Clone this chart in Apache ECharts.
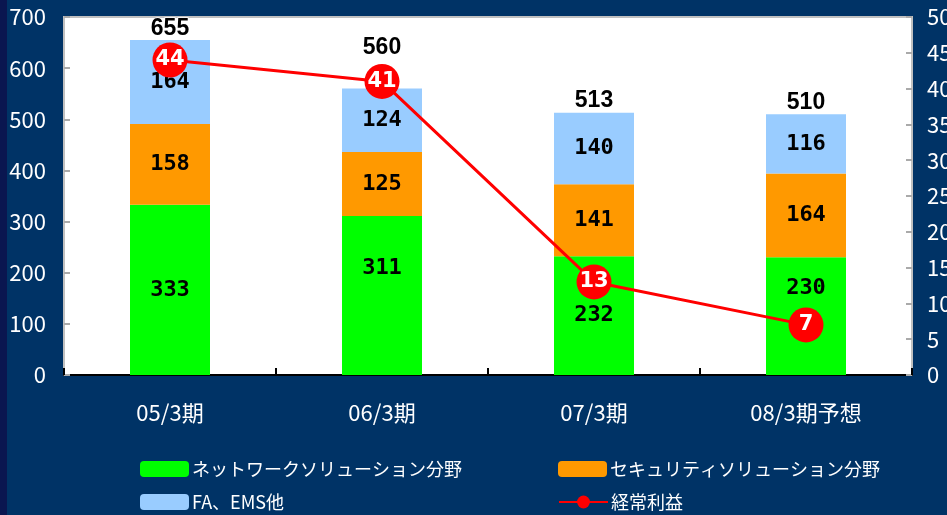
<!DOCTYPE html>
<html><head><meta charset="utf-8">
<script src="https://cdn.jsdelivr.net/npm/echarts@6/dist/echarts.min.js"></script>
<style>html,body{margin:0;padding:0;background:#003366;}#c{width:947px;height:515px;}</style>
</head><body><div id="c"></div>
<script>
const categories = ['05/3期', '06/3期', '07/3期', '08/3期予想'];
const network = [333, 311, 232, 230];
const security = [158, 125, 141, 164];
const faEms = [164, 124, 140, 116];
const totals = [655, 560, 513, 510];
const profit = [44, 41, 13, 7];
const leftTicks = [0, 700, 100];
const rightTicks = [0, 50, 5];
const seriesNames = ['ネットワークソリューション分野', 'セキュリティソリューション分野', 'FA、EMS他', '経常利益'];

// label styling (offsets to avoid overlap with line markers)
const networkLabelShift = [0, -27, 0, -28];
const totalLabelShift = [0, -29, 0, 0];
const legendPos = [[135, 455], [553, 455], [135, 488], [553, 488]];

const segLabel = {
  show: true, position: 'inside', color: '#000', fontWeight: 'bold',
  fontFamily: 'DejaVu Sans Mono', fontSize: 22
};
const axisFont = { color: '#fff', fontSize: 22, fontFamily: '"Liberation Sans Narrow", "Noto Sans CJK JP"' };
const chart = echarts.init(document.getElementById('c'));
chart.setOption({
  backgroundColor: '#003366',
  animation: false,
  graphic: [{ type: 'rect', left: 0, top: 0, shape: { width: 7, height: 515 }, style: { fill: '#0a1650' } }],
  grid: { left: 64, right: 35, top: 17, bottom: 140, outerBoundsMode: 'none', containLabel: false,
    show: true, backgroundColor: '#fff', borderColor: '#c0c0c0', borderWidth: 2 },
  legend: seriesNames.map((n, i) => ({
    data: [n], left: legendPos[i][0], top: legendPos[i][1], itemWidth: 49, itemHeight: 16,
    textStyle: { color: '#fff', fontSize: 18, fontFamily: 'Noto Sans CJK JP', padding: [0, 0, 0, -2] }
  })),
  xAxis: {
    type: 'category', data: categories,
    axisLine: { lineStyle: { color: '#000', width: 2 } },
    axisTick: { show: true, inside: true, length: 7, lineStyle: { color: '#000', width: 2 } },
    axisLabel: Object.assign({ margin: 27 }, axisFont)
  },
  yAxis: [
    { type: 'value', min: leftTicks[0], max: leftTicks[1], interval: leftTicks[2],
      axisLine: { show: false }, splitLine: { show: false },
      axisTick: { show: true, inside: true, length: 6, lineStyle: { color: '#aaa', width: 2 } },
      axisLabel: Object.assign({ margin: 18 }, axisFont) },
    { type: 'value', min: rightTicks[0], max: rightTicks[1], interval: rightTicks[2],
      axisLine: { show: false }, splitLine: { show: false },
      axisTick: { show: true, inside: true, length: 6, lineStyle: { color: '#aaa', width: 2 } },
      axisLabel: Object.assign({ margin: 15 }, axisFont) }
  ],
  series: [
    { name: seriesNames[0], type: 'bar', stack: 's', barWidth: 80,
      itemStyle: { color: '#00ff00' },
      data: network.map((v, i) => ({ value: v, label: { offset: [0, networkLabelShift[i]] } })),
      label: segLabel },
    { name: seriesNames[1], type: 'bar', stack: 's', itemStyle: { color: '#ff9900' }, data: security, label: segLabel },
    { name: seriesNames[2], type: 'bar', stack: 's', itemStyle: { color: '#99ccff' }, data: faEms, label: segLabel },
    { name: 'total', type: 'bar', barWidth: 80, barGap: '-100%', silent: true, z: 1,
      itemStyle: { color: 'rgba(255,255,255,0)' },
      data: totals.map((v, i) => ({ value: v, label: { offset: [0, totalLabelShift[i]] } })),
      label: { show: true, position: 'top', distance: 0, color: '#000', fontWeight: 'bold', fontSize: 23,
        fontFamily: 'Liberation Sans', textBorderColor: '#fff', textBorderWidth: 1.5 } },
    { name: seriesNames[3], type: 'line', yAxisIndex: 1, data: profit, z: 10,
      lineStyle: { color: '#ff0000', width: 3 }, itemStyle: { color: '#ff0000' },
      symbol: 'circle', symbolSize: 35,
      label: { show: true, position: 'inside', color: '#fff', fontWeight: 'bold', fontSize: 21, fontFamily: 'DejaVu Sans' } }
  ]
});
</script></body></html>
